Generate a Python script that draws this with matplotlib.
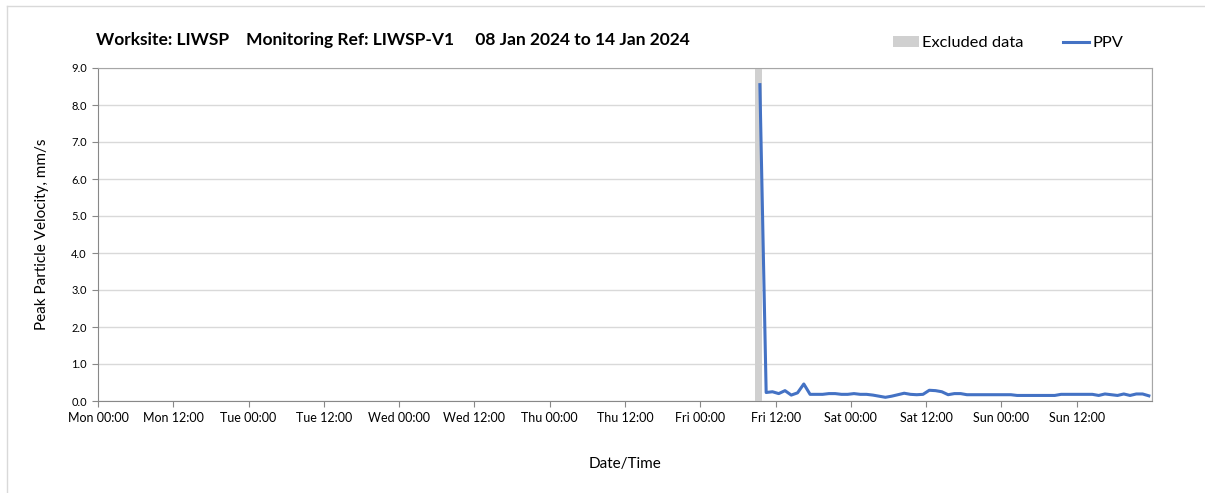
import matplotlib.pyplot as plt
from matplotlib.lines import Line2D
from matplotlib.patches import Patch

plt.rcParams['font.family'] = ['Lato', 'DejaVu Sans']

# hours since Mon 00:00
tick_hours = list(range(0, 168, 12))
tick_labels = ["Mon 00:00", "Mon 12:00", "Tue 00:00", "Tue 12:00", "Wed 00:00",
               "Wed 12:00", "Thu 00:00", "Thu 12:00", "Fri 00:00", "Fri 12:00",
               "Sat 00:00", "Sat 12:00", "Sun 00:00", "Sun 12:00"]

excluded_start = 104.8
excluded_end = 105.8

ppv_start = 105.5
ppv = [8.55, 0.23, 0.25, 0.20, 0.28, 0.16, 0.22, 0.46, 0.18, 0.18,
       0.18, 0.20, 0.20, 0.18, 0.18, 0.20, 0.18, 0.18, 0.16, 0.13,
       0.10, 0.13, 0.17, 0.21, 0.18, 0.17, 0.18, 0.29, 0.28, 0.25,
       0.17, 0.20, 0.20, 0.17, 0.17, 0.17, 0.17, 0.17, 0.17, 0.17,
       0.17, 0.15, 0.15, 0.15, 0.15, 0.15, 0.15, 0.15, 0.18, 0.18,
       0.18, 0.18, 0.18, 0.18, 0.15, 0.19, 0.17, 0.15, 0.19, 0.15,
       0.19, 0.19, 0.14]
ppv_hours = [ppv_start + i for i in range(len(ppv))]

fig = plt.figure(figsize=(12.05, 4.93), dpi=100)
ax = fig.add_axes([98 / 1205, 92 / 493, 1054 / 1205, 333 / 493])

ax.axvspan(excluded_start, excluded_end, color="#d0d0d0", lw=0, zorder=1)
ax.plot(ppv_hours, ppv, color="#4472C4", lw=2.2, zorder=3)

ax.set_xlim(0, 168)
ax.set_ylim(0, 9)
ax.set_yticks(range(0, 10))
ax.set_yticklabels([f"{v:.1f}" for v in range(0, 10)], fontsize=8)
ax.set_xticks(tick_hours)
ax.set_xticklabels(tick_labels, fontsize=9)
ax.set_xticks(range(0, 169, 24), minor=True)

ax.grid(axis="y", color="#d9d9d9", lw=1)
ax.grid(axis="x", which="minor", color="#d9d9d9", lw=1)
ax.set_axisbelow(True)
ax.tick_params(axis="both", direction="out", length=4, color="#888888", pad=4)
ax.tick_params(axis="x", which="minor", length=0)
for s in ax.spines.values():
    s.set_color("#a6a6a6")
ax.spines["left"].set_color("#888888")
ax.spines["bottom"].set_color("#888888")

ax.set_ylabel("Peak Particle Velocity, mm/s", fontsize=11, labelpad=16)
ax.set_xlabel("Date/Time", fontsize=11, labelpad=24)

fig.text(96 / 1205, 1 - 40 / 493,
         "Worksite: LIWSP    Monitoring Ref: LIWSP-V1     08 Jan 2024 to 14 Jan 2024",
         fontsize=12.5, fontweight="bold", va="center", ha="left")

handles = [Patch(facecolor="#d0d0d0", edgecolor="none"),
           Line2D([0], [0], color="#4472C4", lw=2.2)]
fig.legend(handles, ["Excluded data", "PPV"], loc="center left",
           bbox_to_anchor=(878 / 1205, 1 - 43 / 493), ncol=2, frameon=False,
           fontsize=11.8, handlelength=1.6, handletextpad=0.2, columnspacing=2.4)

# outer frame lines
fig.add_artist(Line2D([7 / 1205, 7 / 1205], [0, 1 - 6 / 493], color="#d9d9d9", lw=1))
fig.add_artist(Line2D([7 / 1205, 1], [1 - 6 / 493, 1 - 6 / 493], color="#d9d9d9", lw=1))

fig.savefig("out.png", dpi=100)
